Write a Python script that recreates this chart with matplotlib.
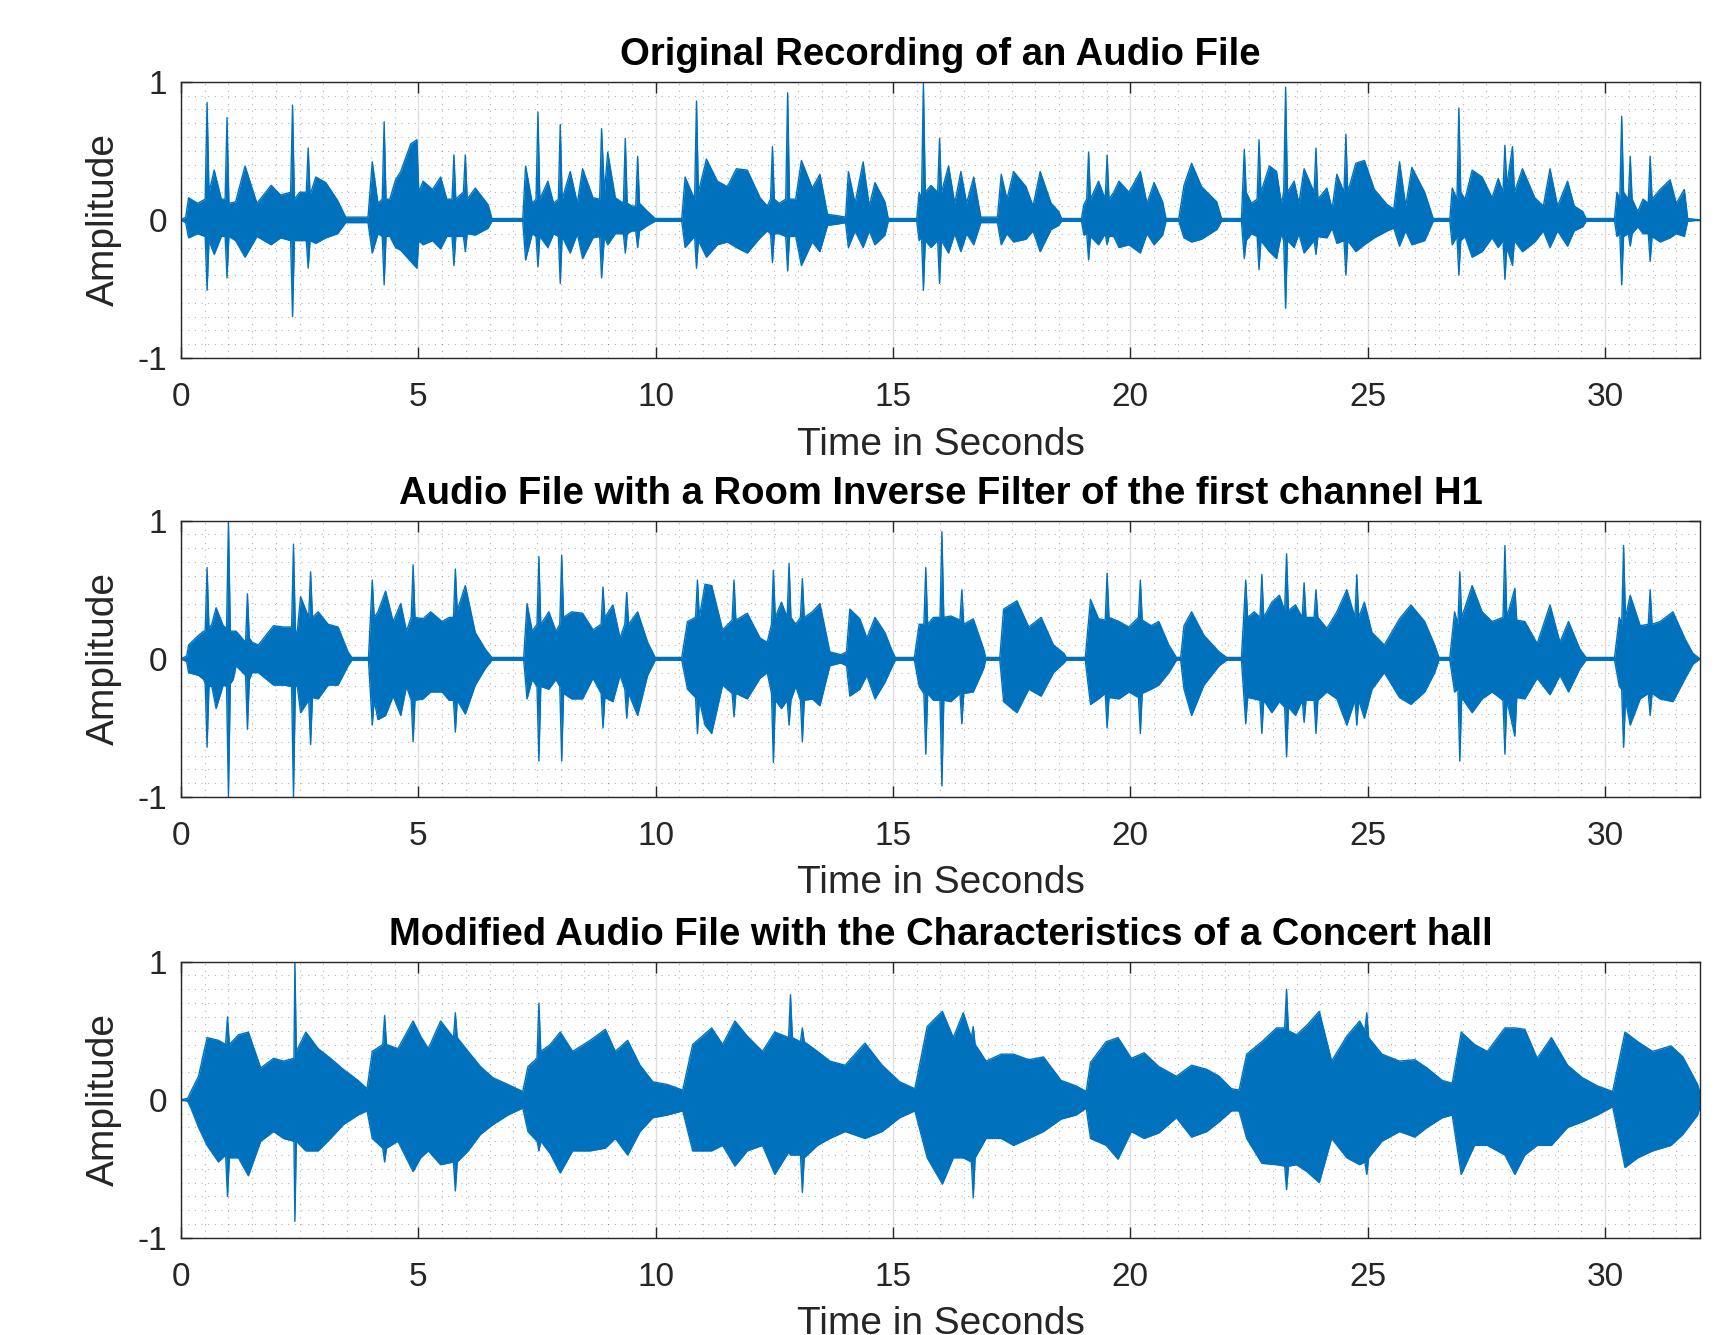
import matplotlib
matplotlib.use("Agg")
import matplotlib.pyplot as plt
from matplotlib.ticker import MultipleLocator

# envelope readings (time in s, upper peak, lower peak)

# original recording
orig_t = [0.0, 0.1, 0.16, 0.35, 0.55, 0.7, 0.85, 0.97, 1.15, 1.35, 1.6, 1.9, 2.1, 2.35, 2.5,
          2.68, 2.84, 3.05, 3.3, 3.47, 3.94, 4.03, 4.15, 4.28, 4.4, 4.52, 4.63, 4.84, 4.97,
          5.1, 5.3, 5.47, 5.6, 5.75, 5.88, 5.99, 6.2, 6.47, 6.55, 7.2, 7.26, 7.4, 7.52, 7.73,
          7.85, 7.99, 8.2, 8.35, 8.46, 8.68, 8.86, 8.99, 9.15, 9.36, 9.5, 9.62, 9.83, 9.99,
          10.55, 10.62, 10.86, 11.07, 11.3, 11.51, 11.7, 11.93, 12.2, 12.35, 12.46, 12.6,
          12.78, 12.95, 13.07, 13.3, 13.46, 13.62, 13.83, 14.0, 14.06, 14.2, 14.37, 14.5,
          14.62, 14.83, 14.9, 15.5, 15.55, 15.64, 15.8, 15.98, 16.17, 16.3, 16.43, 16.55,
          16.7, 16.85, 17.2, 17.28, 17.4, 17.54, 17.8, 17.95, 18.1, 18.33, 18.49, 18.55,
          18.97, 19.02, 19.12, 19.33, 19.51, 19.65, 19.76, 19.97, 20.21, 20.35, 20.5, 20.68,
          20.75, 21.02, 21.13, 21.29, 21.5, 21.82, 21.92, 22.34, 22.4, 22.55, 22.71, 22.93,
          23.08, 23.18, 23.27, 23.45, 23.55, 23.66, 23.91, 24.14, 24.25, 24.35, 24.54, 24.75,
          24.93, 25.14, 25.41, 25.55, 25.67, 25.8, 25.93, 26.2, 26.38, 26.73, 26.78, 26.92,
          27.05, 27.2, 27.41, 27.62, 27.75, 27.89, 28.05, 28.26, 28.52, 28.7, 28.84, 29.0,
          29.21, 29.35, 29.53, 29.6, 30.2, 30.25, 30.35, 30.53, 30.69, 30.8, 30.95, 31.16,
          31.37, 31.5, 31.67, 31.74, 32.0]
orig_hi = [0, 0.02, 0.16, 0.12, 0.85, 0.36, 0.15, 0.74, 0.13, 0.39, 0.12, 0.25, 0.18, 0.83, 0.2,
           0.52, 0.31, 0.27, 0.14, 0.02, 0.02, 0.42, 0.12, 0.71, 0.15, 0.29, 0.35, 0.55, 0.58,
           0.28, 0.22, 0.31, 0.15, 0.47, 0.18, 0.47, 0.23, 0.11, 0.01, 0.01, 0.39, 0.12, 0.78, 0.28,
           0.12, 0.69, 0.35, 0.12, 0.37, 0.16, 0.66, 0.49, 0.16, 0.59, 0.1, 0.46, 0.06, 0.01,
           0.01, 0.31, 0.86, 0.44, 0.28, 0.24, 0.37, 0.36, 0.16, 0.1, 0.53, 0.12,
           0.92, 0.15, 0.43, 0.23, 0.33, 0.04, 0.03, 0.02, 0.35, 0.12, 0.42, 0.1,
           0.27, 0.13, 0.01, 0.01, 0.2, 1.0, 0.25, 0.59, 0.39, 0.12, 0.35, 0.12,
           0.31, 0.02, 0.02, 0.33, 0.15, 0.35, 0.24, 0.1, 0.35, 0.12, 0.06, 0.01,
           0.01, 0.11, 0.49, 0.28, 0.47, 0.2, 0.28, 0.2, 0.35, 0.12, 0.27, 0.13,
           0.01, 0.01, 0.25, 0.41, 0.24, 0.13, 0.01, 0.01, 0.51, 0.12, 0.58, 0.39,
           0.35, 0.12, 0.96, 0.28, 0.12, 0.37, 0.52, 0.23, 0.08, 0.33, 0.62, 0.41,
           0.43, 0.22, 0.11, 0.08, 0.42, 0.1, 0.38, 0.2, 0.01, 0.01, 0.23, 0.81,
           0.15, 0.36, 0.31, 0.16, 0.3, 0.54, 0.53, 0.37, 0.16, 0.1, 0.37, 0.1,
           0.28, 0.1, 0.06, 0.01, 0.01, 0.2, 0.75, 0.46, 0.06, 0.15, 0.46, 0.22,
           0.29, 0.12, 0.22, 0.01, 0]
orig_lo = [0, -0.02, -0.13, -0.1, -0.51, -0.25, -0.12, -0.42, -0.15, -0.27, -0.12, -0.18, -0.13, -0.7, -0.15,
           -0.35, -0.17, -0.13, -0.1, -0.02, -0.02, -0.24, -0.1, -0.47, -0.12, -0.2, -0.22, -0.3, -0.35,
           -0.18, -0.15, -0.21, -0.12, -0.33, -0.12, -0.23, -0.11, -0.06, -0.01, -0.01, -0.29, -0.1, -0.34, -0.2,
           -0.1, -0.46, -0.24, -0.1, -0.28, -0.13, -0.42, -0.18, -0.1, -0.24, -0.08, -0.2, -0.04, -0.01,
           -0.01, -0.2, -0.35, -0.27, -0.18, -0.16, -0.2, -0.24, -0.13, -0.08, -0.31, -0.1,
           -0.37, -0.12, -0.33, -0.16, -0.23, -0.04, -0.03, -0.02, -0.2, -0.08, -0.2, -0.08,
           -0.18, -0.11, -0.01, -0.01, -0.15, -0.51, -0.2, -0.46, -0.24, -0.1, -0.23, -0.1,
           -0.18, -0.02, -0.02, -0.18, -0.1, -0.16, -0.14, -0.08, -0.23, -0.07, -0.04, -0.01,
           -0.01, -0.11, -0.29, -0.18, -0.18, -0.12, -0.2, -0.18, -0.24, -0.1, -0.18, -0.11,
           -0.01, -0.01, -0.13, -0.16, -0.14, -0.07, -0.01, -0.01, -0.28, -0.1, -0.36, -0.23,
           -0.28, -0.1, -0.64, -0.2, -0.1, -0.24, -0.25, -0.13, -0.06, -0.17, -0.4, -0.23,
           -0.18, -0.13, -0.08, -0.06, -0.19, -0.08, -0.18, -0.15, -0.01, -0.01, -0.18, -0.4,
           -0.12, -0.27, -0.23, -0.13, -0.2, -0.43, -0.33, -0.23, -0.16, -0.08, -0.2, -0.08,
           -0.19, -0.08, -0.05, -0.01, -0.01, -0.12, -0.47, -0.19, -0.05, -0.1, -0.3, -0.16,
           -0.13, -0.1, -0.12, -0.01, 0]
# body level read just beside the tall spikes (time, upper, lower)
orig_flanks = [(0.51, 0.15, -0.12), (0.59, 0.2, -0.15), (0.93, 0.15, -0.12), (1.01, 0.12, -0.12),
               (2.31, 0.2, -0.15), (2.39, 0.15, -0.15), (2.64, 0.2, -0.15), (2.72, 0.18, -0.15),
               (4.24, 0.15, -0.12), (4.32, 0.15, -0.12), (5.01, 0.2, -0.15), (5.71, 0.15, -0.12),
               (5.79, 0.15, -0.12), (5.95, 0.2, -0.12), (6.03, 0.15, -0.1), (7.48, 0.15, -0.12),
               (7.56, 0.15, -0.12), (7.95, 0.15, -0.12), (8.03, 0.15, -0.12), (8.82, 0.15, -0.12),
               (8.92, 0.2, -0.12), (9.32, 0.12, -0.1), (9.4, 0.12, -0.1), (9.58, 0.1, -0.08),
               (9.66, 0.12, -0.08), (10.82, 0.15, -0.12), (10.9, 0.2, -0.15), (12.42, 0.15, -0.1),
               (12.5, 0.15, -0.1), (12.74, 0.15, -0.12), (12.82, 0.15, -0.12), (15.6, 0.15, -0.12),
               (15.68, 0.2, -0.15), (15.94, 0.2, -0.15), (16.02, 0.2, -0.15), (19.08, 0.15, -0.1),
               (19.16, 0.15, -0.12), (19.47, 0.15, -0.1), (19.55, 0.15, -0.12), (22.44, 0.2, -0.15),
               (22.67, 0.15, -0.12), (22.75, 0.2, -0.15), (23.23, 0.2, -0.15), (23.31, 0.2, -0.15),
               (23.87, 0.2, -0.15), (23.95, 0.15, -0.12), (24.5, 0.2, -0.15), (24.58, 0.2, -0.15),
               (26.88, 0.15, -0.12), (26.96, 0.2, -0.15), (27.85, 0.2, -0.15), (27.93, 0.25, -0.2),
               (28.09, 0.2, -0.15), (30.31, 0.15, -0.1), (30.39, 0.2, -0.12), (30.49, 0.15, -0.1),
               (30.57, 0.15, -0.1), (30.91, 0.12, -0.1), (30.99, 0.15, -0.12)]

# room inverse filter, channel H1
inv_t = [0.0, 0.12, 0.16, 0.37, 0.48, 0.55, 0.65, 0.74, 0.89, 1.0, 1.1, 1.16, 1.4, 1.5, 1.63,
         1.95, 2.16, 2.37, 2.45, 2.52, 2.73, 2.89, 3.1, 3.31, 3.52, 3.6, 3.95, 4.03, 4.15, 4.31,
         4.47, 4.63, 4.75, 4.89, 5.1, 5.26, 5.5, 5.65, 5.78, 5.99, 6.2, 6.41, 6.55, 7.22, 7.29,
         7.4, 7.54, 7.75, 7.9, 8.02, 8.23, 8.46, 8.68, 8.89, 9.1, 9.25, 9.39, 9.62, 9.83, 9.99,
         10.55, 10.67, 10.88, 11.04, 11.18, 11.41, 11.65, 11.93, 12.2, 12.35, 12.48, 12.65,
         12.81, 12.95, 13.09, 13.3, 13.46, 13.67, 13.9, 14.02, 14.09, 14.3, 14.45, 14.62,
         14.83, 14.99, 15.05, 15.45, 15.55, 15.69, 15.85, 16.03, 16.22, 16.45, 16.69, 16.91,
         16.95, 17.25, 17.33, 17.61, 17.86, 18.12, 18.38, 18.6, 18.65, 19.05, 19.16, 19.33,
         19.51, 19.76, 19.97, 20.21, 20.44, 20.6, 20.81, 20.97, 21.06, 21.13, 21.29, 21.55,
         21.87, 22.03, 22.34, 22.43, 22.61, 22.77, 22.98, 23.14, 23.29, 23.48, 23.66, 23.91,
         24.14, 24.35, 24.56, 24.77, 24.93, 25.09, 25.35, 25.67, 25.91, 26.2, 26.41, 26.5,
         26.73, 26.83, 26.94, 27.2, 27.41, 27.62, 27.89, 28.1, 28.31, 28.57, 28.84, 29.05,
         29.23, 29.47, 29.6, 30.2, 30.3, 30.39, 30.53, 30.74, 30.95, 31.16, 31.43, 31.69,
         31.85, 32.0]
inv_hi = [0, 0.02, 0.1, 0.17, 0.2, 0.66, 0.25, 0.37, 0.24, 1.0, 0.2, 0.2, 0.47, 0.12, 0.1,
          0.24, 0.23, 0.83, 0.2, 0.45, 0.63, 0.34, 0.25, 0.23, 0.05, 0.01, 0.01, 0.57, 0.34, 0.49,
          0.27, 0.4, 0.2, 0.68, 0.29, 0.34, 0.27, 0.3, 0.65, 0.53, 0.19, 0.07, 0.01, 0.01, 0.4,
          0.2, 0.74, 0.34, 0.2, 0.75, 0.34, 0.33, 0.21, 0.52, 0.39, 0.15, 0.48, 0.34, 0.12, 0.01,
          0.01, 0.27, 0.57, 0.54, 0.53, 0.21, 0.57, 0.33, 0.15, 0.12, 0.64, 0.41,
          0.69, 0.25, 0.58, 0.34, 0.4, 0.05, 0.03, 0.05, 0.36, 0.29, 0.15, 0.3,
          0.19, 0.05, 0.01, 0.01, 0.25, 0.66, 0.3, 0.92, 0.31, 0.5, 0.29, 0.07,
          0.01, 0.01, 0.36, 0.42, 0.23, 0.3, 0.1, 0.04, 0.01, 0.01, 0.43, 0.29,
          0.62, 0.27, 0.23, 0.57, 0.24, 0.27, 0.1, 0.01, 0.01, 0.24, 0.34, 0.17,
          0.05, 0.01, 0.01, 0.57, 0.34, 0.61, 0.41, 0.46, 0.76, 0.39, 0.55, 0.5,
          0.22, 0.34, 0.5, 0.61, 0.41, 0.19, 0.1, 0.29, 0.39, 0.27, 0.1, 0.01,
          0.01, 0.34, 0.63, 0.53, 0.34, 0.27, 0.82, 0.51, 0.27, 0.11, 0.39, 0.12,
          0.27, 0.07, 0.01, 0.01, 0.3, 0.82, 0.46, 0.24, 0.5, 0.27, 0.34, 0.14,
          0.04, 0]
inv_lo = [0, -0.02, -0.1, -0.12, -0.15, -0.64, -0.2, -0.36, -0.19, -1.0, -0.15, -0.05, -0.51, -0.1, -0.1,
          -0.19, -0.19, -1.0, -0.2, -0.39, -0.62, -0.29, -0.19, -0.19, -0.05, -0.01, -0.01, -0.48, -0.44, -0.41,
          -0.27, -0.41, -0.2, -0.6, -0.29, -0.24, -0.24, -0.3, -0.53, -0.4, -0.19, -0.07, -0.01, -0.01, -0.29,
          -0.15, -0.74, -0.22, -0.15, -0.74, -0.29, -0.29, -0.14, -0.5, -0.31, -0.12, -0.43, -0.41, -0.12, -0.01,
          -0.01, -0.22, -0.54, -0.48, -0.54, -0.19, -0.42, -0.29, -0.14, -0.1, -0.75, -0.36,
          -0.48, -0.2, -0.6, -0.29, -0.34, -0.05, -0.03, -0.05, -0.27, -0.22, -0.12, -0.29,
          -0.17, -0.05, -0.01, -0.01, -0.2, -0.69, -0.3, -0.92, -0.31, -0.47, -0.24, -0.07,
          -0.01, -0.01, -0.31, -0.39, -0.22, -0.27, -0.1, -0.03, -0.01, -0.01, -0.33, -0.29,
          -0.5, -0.29, -0.24, -0.54, -0.22, -0.19, -0.1, -0.01, -0.01, -0.22, -0.41, -0.19,
          -0.05, -0.01, -0.01, -0.47, -0.29, -0.54, -0.39, -0.31, -0.71, -0.41, -0.46, -0.54,
          -0.24, -0.29, -0.48, -0.48, -0.43, -0.22, -0.1, -0.28, -0.33, -0.24, -0.1, -0.01,
          -0.01, -0.24, -0.74, -0.39, -0.29, -0.24, -0.69, -0.56, -0.29, -0.14, -0.26, -0.12,
          -0.24, -0.07, -0.01, -0.01, -0.2, -0.64, -0.48, -0.29, -0.41, -0.29, -0.31, -0.14,
          -0.04, 0]
inv_flanks = [(0.51, 0.2, -0.18), (0.59, 0.22, -0.2), (0.96, 0.22, -0.2), (1.04, 0.2, -0.18),
              (1.36, 0.12, -0.12), (1.44, 0.15, -0.15), (2.33, 0.23, -0.2), (2.41, 0.2, -0.2),
              (2.69, 0.3, -0.3), (2.77, 0.3, -0.28), (4.07, 0.3, -0.3), (4.85, 0.3, -0.3),
              (4.93, 0.3, -0.3), (5.74, 0.3, -0.3), (5.82, 0.35, -0.3), (7.5, 0.25, -0.2),
              (7.58, 0.25, -0.2), (7.98, 0.25, -0.2), (8.06, 0.3, -0.25), (8.85, 0.25, -0.25),
              (8.93, 0.3, -0.28), (9.35, 0.25, -0.22), (9.43, 0.25, -0.25), (10.84, 0.3, -0.28),
              (10.92, 0.3, -0.3), (11.61, 0.28, -0.25), (11.69, 0.28, -0.25), (12.44, 0.25, -0.25),
              (12.52, 0.3, -0.3), (12.77, 0.3, -0.3), (12.85, 0.3, -0.3), (13.05, 0.3, -0.3),
              (13.13, 0.3, -0.3), (15.65, 0.25, -0.25), (15.73, 0.25, -0.25), (15.99, 0.3, -0.3),
              (16.07, 0.3, -0.3), (16.41, 0.28, -0.25), (16.49, 0.25, -0.25), (19.47, 0.28, -0.25),
              (19.55, 0.3, -0.28), (20.17, 0.3, -0.28), (20.25, 0.28, -0.25), (22.47, 0.3, -0.28),
              (22.73, 0.3, -0.3), (22.81, 0.3, -0.3), (23.25, 0.35, -0.35), (23.33, 0.35, -0.35),
              (23.62, 0.3, -0.3), (23.7, 0.3, -0.3), (23.87, 0.3, -0.3), (23.95, 0.3, -0.3),
              (24.73, 0.3, -0.3), (24.81, 0.3, -0.3), (26.9, 0.25, -0.22), (26.98, 0.3, -0.28),
              (27.85, 0.3, -0.3), (27.93, 0.3, -0.3), (28.14, 0.28, -0.28), (30.35, 0.25, -0.22),
              (30.43, 0.3, -0.3), (30.91, 0.25, -0.25), (30.99, 0.25, -0.25)]

# concert hall version
hall_t = [0.0, 0.14, 0.21, 0.37, 0.55, 0.79, 0.98, 1.21, 1.42, 1.68, 1.95, 2.16, 2.38, 2.4, 2.43,
          2.63, 2.89, 3.15, 3.42, 3.73, 3.92, 4.03, 4.29, 4.57, 4.89, 5.05, 5.21, 5.47, 5.78,
          6.05, 6.31, 6.57, 6.89, 7.2, 7.31, 7.54, 7.78, 7.99, 8.25, 8.62, 8.94, 9.15, 9.41,
          9.67, 9.94, 10.25, 10.57, 10.78, 11.18, 11.41, 11.67, 11.93, 12.25, 12.51, 12.84,
          13.09, 13.41, 13.67, 13.99, 14.41, 14.77, 15.14, 15.46, 15.72, 16.04, 16.27, 16.48,
          16.69, 16.96, 17.28, 17.54, 17.86, 18.17, 18.54, 18.86, 19.07, 19.16, 19.49, 19.74,
          20.02, 20.29, 20.6, 20.97, 21.29, 21.61, 21.87, 22.13, 22.29, 22.45, 22.77, 23.08,
          23.29, 23.5, 23.72, 23.98, 24.24, 24.56, 24.83, 24.98, 25.3, 25.67, 25.99, 26.25,
          26.57, 26.78, 26.97, 27.25, 27.52, 27.89, 28.1, 28.31, 28.57, 28.87, 29.21, 29.52,
          29.84, 30.16, 30.42, 30.69, 31.0, 31.39, 31.64, 31.95, 32.0]
hall_hi = [0, 0.01, 0.06, 0.17, 0.45, 0.43, 0.6, 0.47, 0.49, 0.23, 0.3, 0.28, 0.3, 1.0, 0.35,
           0.49, 0.37, 0.3, 0.22, 0.14, 0.08, 0.35, 0.61, 0.37, 0.57, 0.46, 0.37, 0.57, 0.63,
           0.35, 0.24, 0.16, 0.11, 0.06, 0.24, 0.7, 0.4, 0.49, 0.35, 0.43, 0.51, 0.35, 0.43,
           0.25, 0.13, 0.11, 0.07, 0.4, 0.52, 0.4, 0.57, 0.46, 0.35, 0.49, 0.76,
           0.52, 0.35, 0.28, 0.25, 0.41, 0.25, 0.13, 0.08, 0.53, 0.64, 0.45, 0.63,
           0.53, 0.28, 0.33, 0.33, 0.29, 0.31, 0.14, 0.1, 0.06, 0.27, 0.42, 0.45,
           0.3, 0.34, 0.24, 0.17, 0.25, 0.22, 0.17, 0.08, 0.07, 0.33, 0.42, 0.52,
           0.8, 0.47, 0.54, 0.64, 0.28, 0.46, 0.57, 0.63, 0.33, 0.28, 0.29, 0.23,
           0.14, 0.12, 0.49, 0.4, 0.35, 0.52, 0.52, 0.51, 0.3, 0.45, 0.25, 0.16,
           0.1, 0.06, 0.49, 0.42, 0.35, 0.39, 0.31, 0.11, 0.05]
hall_lo = [0, -0.01, -0.06, -0.2, -0.33, -0.45, -0.7, -0.42, -0.55, -0.3, -0.23, -0.28, -0.3, -0.88, -0.3,
           -0.37, -0.37, -0.28, -0.18, -0.11, -0.08, -0.28, -0.45, -0.3, -0.52, -0.42, -0.37, -0.47, -0.66,
           -0.37, -0.25, -0.18, -0.11, -0.06, -0.23, -0.37, -0.39, -0.53, -0.37, -0.37, -0.35, -0.28, -0.4,
           -0.23, -0.13, -0.11, -0.08, -0.37, -0.37, -0.33, -0.48, -0.37, -0.33, -0.54, -0.4,
           -0.67, -0.33, -0.28, -0.23, -0.28, -0.23, -0.13, -0.08, -0.42, -0.61, -0.42, -0.42,
           -0.71, -0.28, -0.28, -0.33, -0.28, -0.23, -0.14, -0.11, -0.06, -0.28, -0.33, -0.43,
           -0.23, -0.28, -0.24, -0.13, -0.27, -0.23, -0.16, -0.08, -0.08, -0.28, -0.46, -0.47,
           -0.65, -0.47, -0.52, -0.6, -0.28, -0.42, -0.47, -0.54, -0.3, -0.23, -0.27, -0.2,
           -0.13, -0.11, -0.54, -0.33, -0.33, -0.4, -0.54, -0.4, -0.33, -0.33, -0.2, -0.16,
           -0.11, -0.05, -0.49, -0.42, -0.37, -0.33, -0.25, -0.11, -0.05]
hall_flanks = [(0.94, 0.4, -0.4), (1.02, 0.4, -0.42), (4.25, 0.4, -0.35), (4.33, 0.4, -0.35),
               (5.74, 0.45, -0.45), (5.82, 0.45, -0.45), (7.5, 0.3, -0.3), (7.58, 0.35, -0.3),
               (12.8, 0.45, -0.38), (12.88, 0.45, -0.4), (13.05, 0.42, -0.4), (13.13, 0.42, -0.42),
               (16.65, 0.45, -0.45), (16.73, 0.4, -0.42), (23.25, 0.52, -0.48), (23.33, 0.5, -0.48),
               (24.94, 0.5, -0.45), (25.02, 0.45, -0.42)]

titles = ['Original Recording of an Audio File',
          'Audio File with a Room Inverse Filter of the first channel H1',
          'Modified Audio File with the Characteristics of a Concert hall']
xticks = [0, 5, 10, 15, 20, 25, 30]
yticks = [-1, 0, 1]

BLUE = '#0072BD'
DARK = '#262626'

plt.rcParams['font.family'] = ['Liberation Sans', 'DejaVu Sans']
plt.rcParams['axes.unicode_minus'] = False


def merge(t, hi, lo, flanks):
    rows = sorted(list(zip(t, hi, lo)) + list(flanks))
    return [r[0] for r in rows], [r[1] for r in rows], [r[2] for r in rows]


fig = plt.figure(figsize=(17.17, 13.35), dpi=100)

panels = [merge(orig_t, orig_hi, orig_lo, orig_flanks),
          merge(inv_t, inv_hi, inv_lo, inv_flanks),
          merge(hall_t, hall_hi, hall_lo, hall_flanks)]
bottoms = [0.7318, 0.403, 0.0727]

for i, (t, hi, lo) in enumerate(panels):
    ax = fig.add_axes([0.1054, bottoms[i], 0.8847, 0.207])
    ax.fill_between(t, lo, hi, color=BLUE, lw=0)
    ax.plot(t, hi, color=BLUE, lw=1)
    ax.plot(t, lo, color=BLUE, lw=1)

    ax.set_xlim(0, 32)
    ax.set_ylim(-1, 1)
    ax.set_xticks(xticks)
    ax.set_yticks(yticks)
    ax.xaxis.set_minor_locator(MultipleLocator(0.5))
    ax.yaxis.set_minor_locator(MultipleLocator(0.1))
    ax.set_axisbelow(True)
    ax.grid(which='major', color=DARK, alpha=0.15, lw=1)
    ax.grid(which='minor', color=DARK, alpha=0.35, lw=0.8, linestyle=(0, (1, 5)))

    ax.tick_params(which='major', direction='in', length=8, width=1, top=True, right=True,
                   labelsize=24, colors=DARK)
    ax.tick_params(axis='x', which='major', pad=17.5)
    ax.tick_params(axis='y', which='major', pad=10)
    ax.tick_params(which='minor', length=0)
    for sp in ax.spines.values():
        sp.set_color(DARK)
        sp.set_linewidth(1)

    ax.set_title(titles[i], fontsize=27.5, fontweight='bold', pad=12)
    ax.set_xlabel('Time in Seconds', fontsize=28, color=DARK, labelpad=9.5)
    ax.set_ylabel('Amplitude', fontsize=28, color=DARK, labelpad=11)

fig.savefig('out.png', dpi=100)
